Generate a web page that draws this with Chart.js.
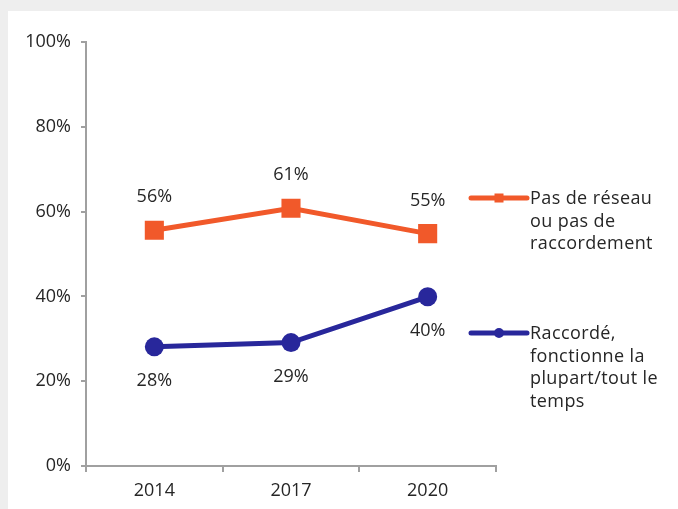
<!DOCTYPE html>
<html lang="fr">
<head>
<meta charset="UTF-8">
<script src="https://cdn.jsdelivr.net/npm/chart.js"></script>
<title>Raccordement</title>
<style>
  * { margin: 0; padding: 0; box-sizing: border-box; }
  body { background: #eeeeee; width: 678px; height: 509px; overflow: hidden; }
  .panel { position: absolute; left: 8px; top: 11px; width: 670px; height: 498px; background: #fff; }
</style>
</head>
<body>
<div class="panel">
  <canvas id="myChart" width="670" height="498"></canvas>
</div>
<script>
// data (unrounded shares, as plotted)
const years = ['2014', '2017', '2020'];
const noNetwork = [55.6, 60.8, 54.8];
const connected = [28.1, 29.1, 39.9];
const seriesNames = [
  ['Pas de réseau', 'ou pas de', 'raccordement'],
  ['Raccordé,', 'fonctionne la', 'plupart/tout le', 'temps']
];
const yTicks = [0, 20, 40, 60, 80, 100];

const FONT = "'Open Sans', sans-serif";
const TEXT = '#262626';
const AXIS = '#a0a0a0';

// value labels above / below the points
const valueLabels = {
  id: 'valueLabels',
  afterDatasetsDraw(chart) {
    const { ctx } = chart;
    ctx.save();
    ctx.font = '18px ' + FONT;
    ctx.fillStyle = TEXT;
    ctx.textAlign = 'center';
    ctx.textBaseline = 'middle';
    chart.data.datasets.forEach((ds, i) => {
      const meta = chart.getDatasetMeta(i);
      meta.data.forEach((pt, j) => {
        const dy = i === 0 ? -33 : 34;
        ctx.fillText(Math.round(ds.data[j]) + '%', pt.x, pt.y + dy);
      });
    });
    ctx.restore();
  }
};

// legend on the right, wrapped lines
const sideLegend = {
  id: 'sideLegend',
  afterDraw(chart) {
    const { ctx, chartArea } = chart;
    const x0 = chartArea.right - 25, x1 = chartArea.right + 31;
    const tops = [chartArea.top + 156, chartArea.top + 291];
    ctx.save();
    chart.data.datasets.forEach((ds, i) => {
      const y = tops[i];
      ctx.strokeStyle = ds.borderColor;
      ctx.lineWidth = 5;
      ctx.lineCap = 'round';
      ctx.beginPath();
      ctx.moveTo(x0, y);
      ctx.lineTo(x1, y);
      ctx.stroke();
      ctx.fillStyle = ds.borderColor;
      if (ds.pointStyle === 'rect') {
        ctx.fillRect((x0 + x1) / 2 - 4.5, y - 4.5, 9, 9);
      } else {
        ctx.beginPath();
        ctx.arc((x0 + x1) / 2, y, 5, 0, Math.PI * 2);
        ctx.fill();
      }
      ctx.font = '18px ' + FONT;
      ctx.letterSpacing = '0.4px';
      ctx.fillStyle = TEXT;
      ctx.textAlign = 'left';
      ctx.textBaseline = 'middle';
      seriesNames[i].forEach((line, k) => {
        ctx.fillText(line, x1 + 3, y + 1 + k * 22.5);
      });
    });
    ctx.restore();
  }
};

const config = {
  type: 'line',
  data: {
    labels: years,
    datasets: [{
      label: seriesNames[0].join(' '),
      data: noNetwork,
      borderColor: '#f1592a',
      backgroundColor: '#f1592a',
      borderWidth: 5,
      pointStyle: 'rect',
      pointRadius: 13.5,
      pointHoverRadius: 13.5,
      pointBorderWidth: 0,
      pointHoverBorderWidth: 0,
      tension: 0
    }, {
      label: seriesNames[1].join(' '),
      data: connected,
      borderColor: '#28279b',
      backgroundColor: '#28279b',
      borderWidth: 5,
      pointStyle: 'circle',
      pointRadius: 9.5,
      pointHoverRadius: 9.5,
      pointBorderWidth: 0,
      pointHoverBorderWidth: 0,
      tension: 0
    }]
  },
  options: {
    responsive: false,
    animation: false,
    layout: { padding: { top: 31, right: 182, left: 0, bottom: 0 } },
    plugins: {
      legend: { display: false },
      tooltip: { enabled: false }
    },
    scales: {
      x: {
        offset: true,
        grid: { display: true, drawOnChartArea: false, drawTicks: true, tickLength: 6, color: AXIS, lineWidth: 2, offset: true },
        border: { color: AXIS, width: 2 },
        ticks: { font: { family: FONT, size: 18 }, color: TEXT, padding: 8 },
        afterFit(scale) { scale.height = 43; }
      },
      y: {
        min: 0, max: 100,
        afterBuildTicks(scale) { scale.ticks = yTicks.map(v => ({ value: v })); },
        grid: { display: true, drawOnChartArea: false, drawTicks: true, tickLength: 5, color: AXIS, lineWidth: 2 },
        border: { color: AXIS, width: 2 },
        ticks: { font: { family: FONT, size: 18 }, color: TEXT, padding: 10, callback: v => v + '%' },
        afterFit(scale) { scale.width = 78; }
      }
    }
  },
  plugins: [valueLabels, sideLegend]
};

new Chart(document.getElementById('myChart'), config);
</script>
</body>
</html>
